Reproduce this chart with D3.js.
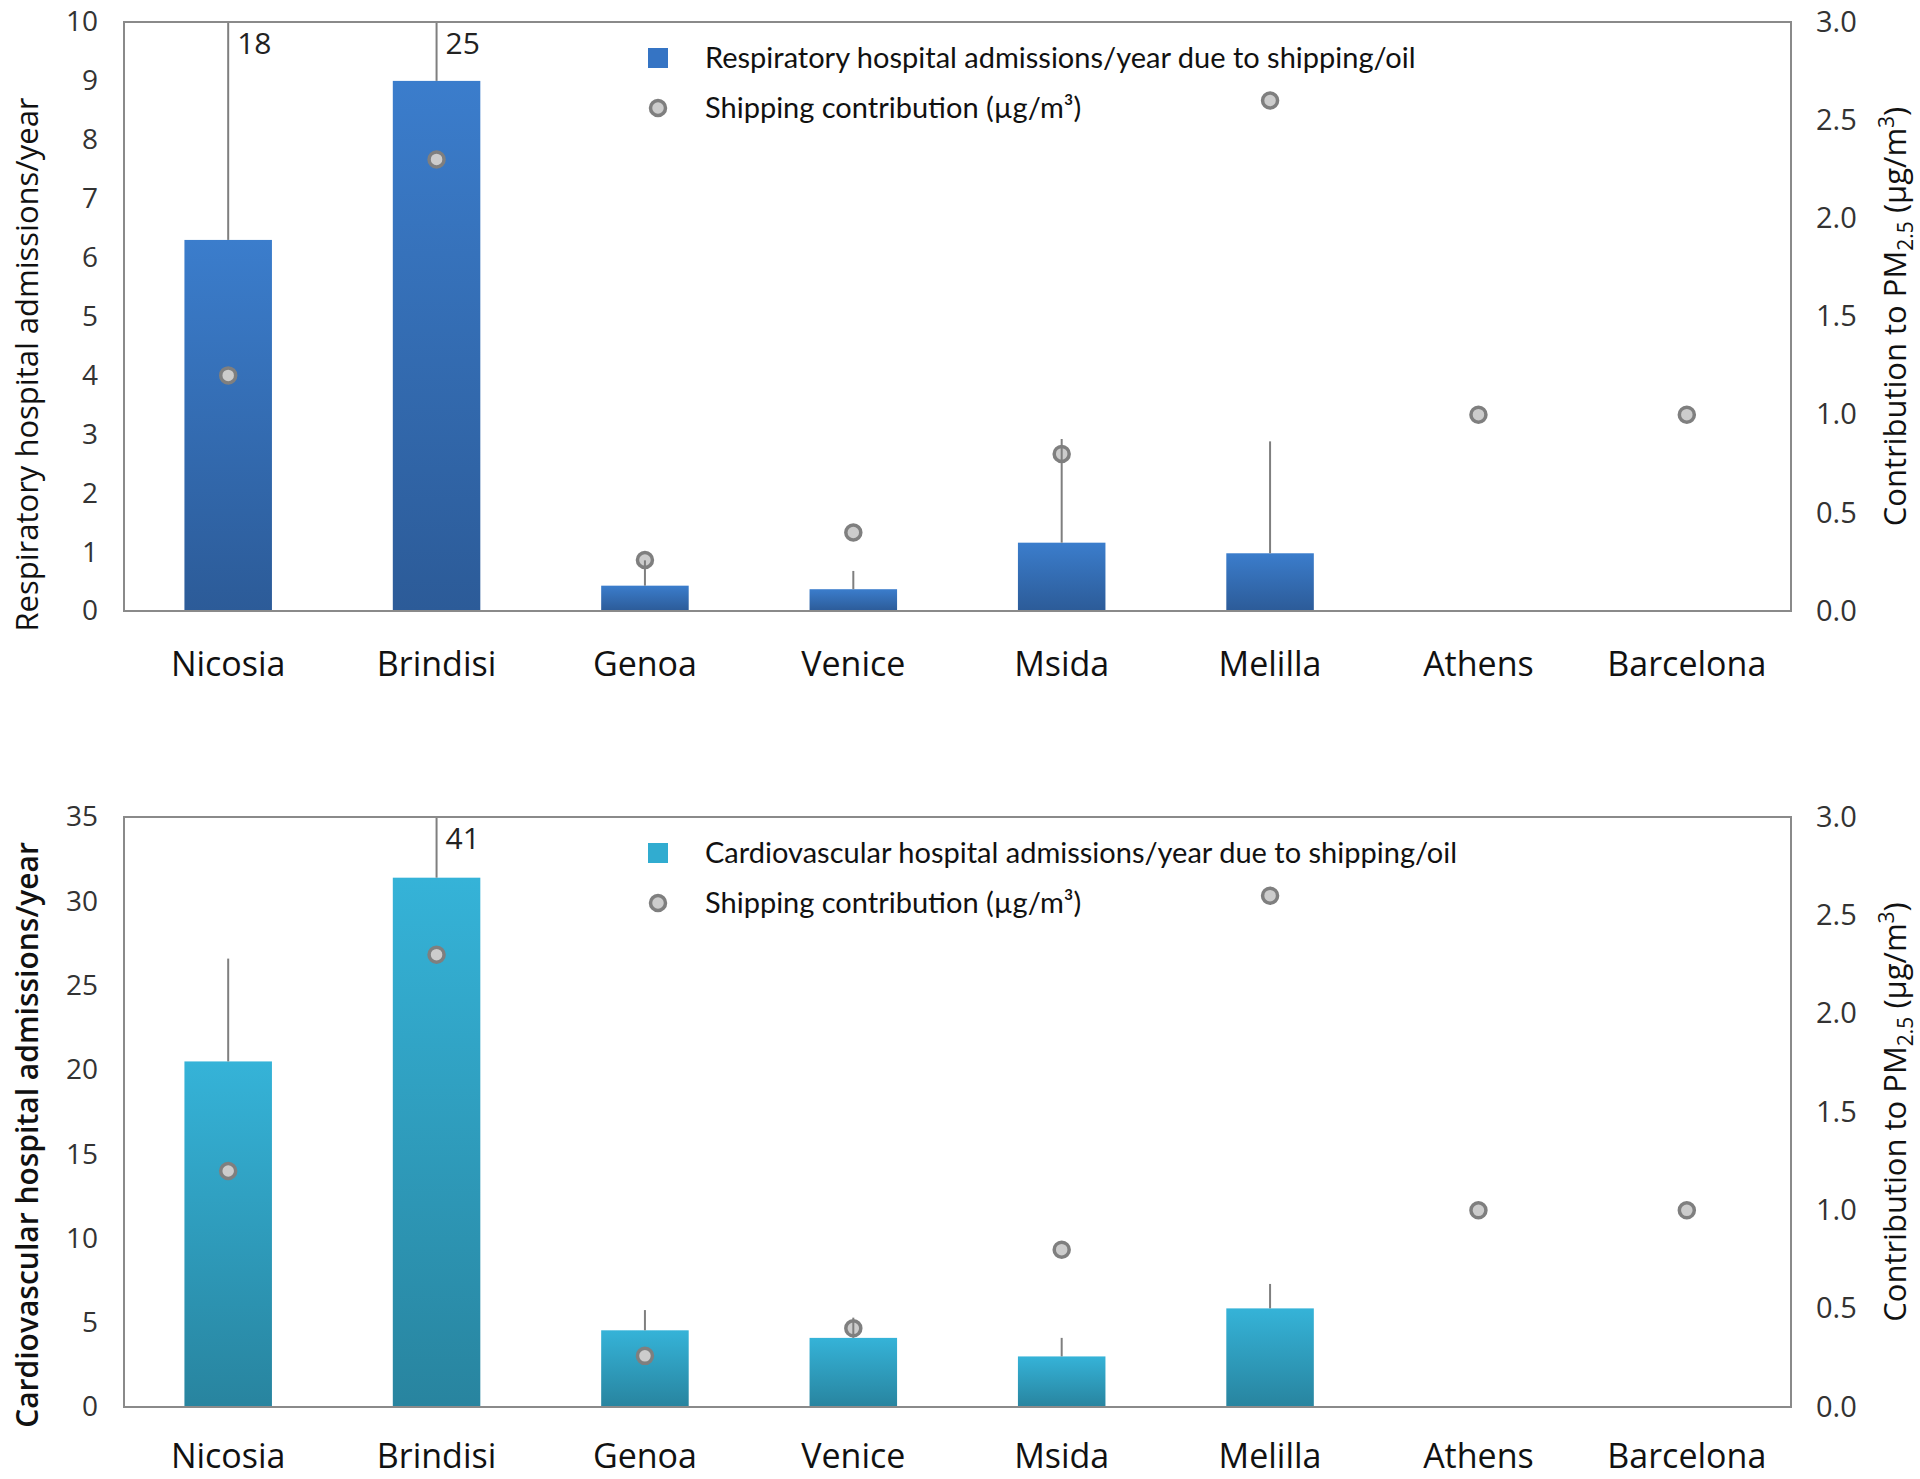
<!DOCTYPE html>
<html>
<head>
<meta charset="utf-8">
<script src="https://cdn.jsdelivr.net/npm/d3@7"></script>
<style>
  html, body { margin: 0; padding: 0; background: #fff; }
  svg { display: block; }
</style>
</head>
<body>
<svg id="chart" width="1920" height="1479"></svg>
<script>
// ---------- DATA ----------
const cities = ["Nicosia", "Brindisi", "Genoa", "Venice", "Msida", "Melilla", "Athens", "Barcelona"];
const respAdmissions   = [6.3, 9.0, 0.43, 0.37, 1.16, 0.98, null, null];
const respUpper        = [18, 25, 0.86, 0.68, 2.92, 2.88, null, null];
const cardioAdmissions = [20.5, 31.4, 4.55, 4.1, 3.0, 5.85, null, null];
const cardioUpper      = [26.6, 41, 5.75, 5.3, 4.1, 7.3, null, null];
const shippingContribution = [1.2, 2.3, 0.26, 0.40, 0.80, 2.6, 1.0, 1.0];
const respTicks   = [0, 1, 2, 3, 4, 5, 6, 7, 8, 9, 10];
const cardioTicks = [0, 5, 10, 15, 20, 25, 30, 35];
const rightTicks  = [0, 0.5, 1.0, 1.5, 2.0, 2.5, 3.0];

const svg = d3.select("#chart");
const defs = svg.append("defs");

function gradient(id, top, bottom) {
  const g = defs.append("linearGradient").attr("id", id)
    .attr("x1", 0).attr("y1", 0).attr("x2", 0).attr("y2", 1);
  g.append("stop").attr("offset", "0%").attr("stop-color", top);
  g.append("stop").attr("offset", "100%").attr("stop-color", bottom);
}
gradient("gResp", "#3b7dcc", "#2c5b98");
gradient("gCardio", "#35b3d8", "#28849f");

const FONT = "'Open Sans', 'Noto Sans', sans-serif";
const LFONT = "Lato, 'Open Sans', sans-serif";

function panel(cfg) {
  const { top, bottom, values, upper, leftMax, ticks, fill, legendFill, legendLabel, yTitle, yTitleWeight, yTitleSize, yTitleOffset, legendY, labelPad } = cfg;
  const left = 124, right = 1791;
  const g = svg.append("g");

  const x = d3.scaleBand().domain(cities).range([left, right]).padding(0);
  const y = d3.scaleLinear().domain([0, leftMax]).range([bottom, top]);
  const y2 = d3.scaleLinear().domain([0, 3]).range([bottom, top]);
  const barW = x.bandwidth() * 0.42;
  const cx = c => x(c) + x.bandwidth() / 2;

  const barData = cities.map((c, i) => ({ c, v: values[i], u: upper[i], s: shippingContribution[i] }));
  g.selectAll("rect.bar").data(barData.filter(d => d.v != null)).join("rect")
    .attr("class", "bar")
    .attr("x", d => cx(d.c) - barW / 2)
    .attr("width", barW)
    .attr("y", d => y(d.v))
    .attr("height", d => y(0) - y(d.v))
    .attr("fill", fill);

  g.selectAll("circle.pt").data(barData).join("circle")
    .attr("class", "pt")
    .attr("cx", d => cx(d.c))
    .attr("cy", d => y2(d.s))
    .attr("r", 7.5)
    .attr("fill", "#cccccc")
    .attr("stroke", "#7f7f7f")
    .attr("stroke-width", 3.5);

  const eb = barData.filter(d => d.u != null);
  g.selectAll("line.err").data(eb).join("line")
    .attr("class", "err")
    .attr("x1", d => cx(d.c)).attr("x2", d => cx(d.c))
    .attr("y1", d => y(d.v))
    .attr("y2", d => y(Math.min(d.u, leftMax)))
    .attr("stroke", "#7f7f7f").attr("stroke-width", 2);

  g.selectAll("text.errlab").data(eb.filter(d => d.u > leftMax)).join("text")
    .attr("class", "errlab")
    .attr("x", d => cx(d.c) + 9)
    .attr("y", top + 32)
    .attr("font-family", FONT).attr("font-size", 30).attr("fill", "#222")
    .text(d => d.u);

  g.append("rect").attr("x", left).attr("y", top).attr("width", right - left).attr("height", bottom - top)
    .attr("fill", "none").attr("stroke", "#8a8a8a").attr("stroke-width", 2);

  const ax = g.append("g").attr("transform", `translate(${left},0)`)
    .call(d3.axisLeft(y).tickValues(ticks).tickSize(0).tickPadding(26).tickFormat(d3.format("d")));
  ax.select(".domain").remove();
  ax.selectAll("text").attr("font-family", FONT).attr("font-size", 28).attr("fill", "#333");

  const ax2 = g.append("g").attr("transform", `translate(${right},0)`)
    .call(d3.axisRight(y2).tickValues(rightTicks).tickSize(0).tickPadding(25).tickFormat(d3.format(".1f")));
  ax2.select(".domain").remove();
  ax2.selectAll("text").attr("font-family", FONT).attr("font-size", 29).attr("fill", "#333");

  const ax3 = g.append("g").attr("transform", `translate(0,${bottom})`)
    .call(d3.axisBottom(x).tickSize(0).tickPadding(labelPad));
  ax3.select(".domain").remove();
  ax3.selectAll("text").attr("font-family", FONT).attr("font-size", 34).attr("fill", "#111");

  g.append("text")
    .attr("transform", `translate(38,${(top + bottom) / 2 + yTitleOffset}) rotate(-90)`)
    .attr("text-anchor", "middle")
    .attr("font-family", FONT).attr("font-size", yTitleSize).attr("font-weight", yTitleWeight).attr("fill", "#111")
    .text(yTitle);

  const rt = g.append("text")
    .attr("transform", `translate(1906,${(top + bottom) / 2}) rotate(-90)`)
    .attr("text-anchor", "middle")
    .attr("font-family", FONT).attr("font-size", 31).attr("fill", "#111");
  rt.append("tspan").text("Contribution to PM");
  rt.append("tspan").attr("font-size", 21).attr("dy", 7).text("2.5");
  rt.append("tspan").attr("dy", -7).text(" (µg/m");
  rt.append("tspan").attr("font-size", 21).attr("dy", -12).text("3");
  rt.append("tspan").attr("dy", 12).text(")");

  const lg = g.append("g");
  lg.append("rect").attr("x", 648).attr("y", legendY - 10).attr("width", 20).attr("height", 20).attr("fill", legendFill);
  lg.append("text").attr("x", 705).attr("y", legendY + 10)
    .attr("font-family", LFONT).attr("font-size", 29).attr("fill", "#111")
    .text(legendLabel);
  lg.append("circle").attr("cx", 658).attr("cy", legendY + 50).attr("r", 7.5)
    .attr("fill", "#cccccc").attr("stroke", "#7f7f7f").attr("stroke-width", 3.5);
  lg.append("text").attr("x", 705).attr("y", legendY + 60)
    .attr("font-family", LFONT).attr("font-size", 29).attr("fill", "#111")
    .text("Shipping contribution (µg/m³)");
}

panel({
  top: 22, bottom: 611, values: respAdmissions, upper: respUpper, leftMax: 10, ticks: respTicks,
  fill: "url(#gResp)", legendFill: "#3574c4",
  legendLabel: "Respiratory hospital admissions/year due to shipping/oil",
  yTitle: "Respiratory hospital admissions/year", yTitleWeight: 400, yTitleSize: 31, yTitleOffset: 48, legendY: 58, labelPad: 41
});
panel({
  top: 817, bottom: 1407, values: cardioAdmissions, upper: cardioUpper, leftMax: 35, ticks: cardioTicks,
  fill: "url(#gCardio)", legendFill: "#31acd0",
  legendLabel: "Cardiovascular hospital admissions/year due to shipping/oil",
  yTitle: "Cardiovascular hospital admissions/year", yTitleWeight: 600, yTitleSize: 30, yTitleOffset: 23, legendY: 853, labelPad: 37
});
</script>
</body>
</html>
